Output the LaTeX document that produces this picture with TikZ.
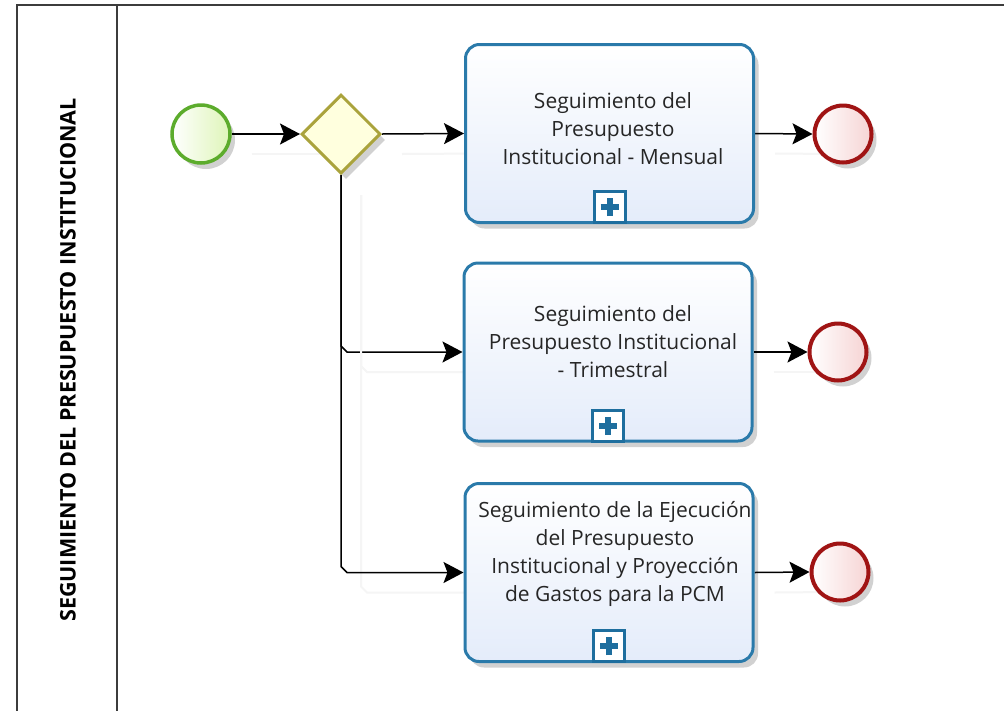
\documentclass[tikz,border=0pt]{standalone}
\usepackage{fontspec}
\setmainfont{Open Sans}
\usetikzlibrary{arrows.meta,shadows,calc,shapes.geometric,backgrounds}
\definecolor{taskblue}{RGB}{42,122,170}
\definecolor{taskfill}{RGB}{228,236,250}
\definecolor{plusblue}{RGB}{30,110,158}
\definecolor{startgreen}{RGB}{92,172,44}
\definecolor{startfill}{RGB}{222,245,184}
\definecolor{gateolive}{RGB}{170,163,60}
\definecolor{gatefill}{RGB}{255,255,222}
\definecolor{endred}{RGB}{160,20,20}
\definecolor{endfill}{RGB}{246,212,212}
\definecolor{poolline}{RGB}{60,60,60}
\begin{document}
\begin{tikzpicture}[x=1pt,y=-1pt,
  softshadow/.style={drop shadow={shadow xshift=5pt,shadow yshift=-6pt,opacity=0.18,fill=black}},
  taskbox/.style={draw=taskblue,line width=3pt,rounded corners=14pt,minimum width=288pt,minimum height=178pt,inner sep=0pt,top color=white,bottom color=taskfill,softshadow},
  tasktext/.style={font=\fontsize{21}{28}\selectfont,align=center,inner sep=0pt,text=black!85},
  plusbox/.style={draw=plusblue,line width=3pt,fill=white,minimum size=31pt,inner sep=0pt,
    path picture={\draw[plusblue,line width=6pt] ([xshift=-9pt]path picture bounding box.center) -- ([xshift=9pt]path picture bounding box.center);
                  \draw[plusblue,line width=6pt] ([yshift=-9pt]path picture bounding box.center) -- ([yshift=9pt]path picture bounding box.center);}},
  startev/.style={circle,draw=startgreen,line width=3.5pt,minimum size=58pt,inner sep=0pt,left color=white,right color=startfill,softshadow},
  endev/.style={circle,draw=endred,line width=4pt,minimum size=57pt,inner sep=0pt,left color=white,right color=endfill,softshadow},
  gateway/.style={diamond,aspect=1,draw=gateolive,line width=3pt,minimum width=79pt,minimum height=79pt,inner sep=0pt,fill=gatefill,softshadow},
  flow/.style={draw=black,line width=1.5pt,-{Stealth[length=20pt,width=21pt,inset=4pt]},
    preaction={draw=black!4,line width=2pt,arrows=-,transform canvas={shift={(20pt,-20pt)}}}},
  poolrule/.style={draw=poolline,line width=2pt}
]
\useasboundingbox (0,0) rectangle (1004,710);
\clip (0,0) rectangle (1004,710);

% pool and lane
\draw[poolrule] (17,730) -- (17,5) -- (1020,5);
\draw[poolrule] (117,5) -- (117,730);
\node[rotate=90,font=\bfseries\fontsize{21.5}{24}\selectfont,inner sep=0pt] (lane) at (68,360) {SEGUIMIENTO DEL PRESUPUESTO INSTITUCIONAL};

% nodes
\node[startev] (s) at (201,134) {};
\node[gateway] (g) at (341,134) {};
\node[taskbox] (t1) at (609.5,133.5) {};
\node[taskbox] (t2) at (608,352) {};
\node[taskbox] (t3) at (609,572.5) {};
\node[tasktext] (x1) at (613,129) {Seguimiento del\\Presupuesto\\Institucional - Mensual};
\node[tasktext] (x2) at (613,342) {Seguimiento del\\Presupuesto Institucional\\- Trimestral};
\node[tasktext] (x3) at (615,554) {Seguimiento de la Ejecución\\del Presupuesto\\Institucional y Proyección\\de Gastos para la PCM};
\node[plusbox] (p1) at ($(t1.south)+(0,-17)$) {};
\node[plusbox] (p2) at ($(t2.south)+(0,-17)$) {};
\node[plusbox] (p3) at ($(t3.south)+(0,-17)$) {};
\node[endev] (e1) at (843,134) {};
\node[endev] (e2) at (838,352) {};
\node[endev] (e3) at (840,572) {};

% connectors
\begin{scope}[on background layer]
\fill[white] (0,0) rectangle (1004,710);
\draw[flow] (s.east) -- (g.west);
\draw[flow] (g.east) -- (t1.west);
\draw[flow] (g.south) -- ($(g.south |- t2.west)+(0,-6)$) -- ($(g.south |- t2.west)+(6,0)$) -- (t2.west);
\draw[flow] (g.south) -- ($(g.south |- t3.west)+(0,-6)$) -- ($(g.south |- t3.west)+(6,0)$) -- (t3.west);
\draw[flow] (t1.east) -- (e1.west);
\draw[flow] (t2.east) -- (e2.west);
\draw[flow] (t3.east) -- (e3.west);
\end{scope}
\end{tikzpicture}
\end{document}
